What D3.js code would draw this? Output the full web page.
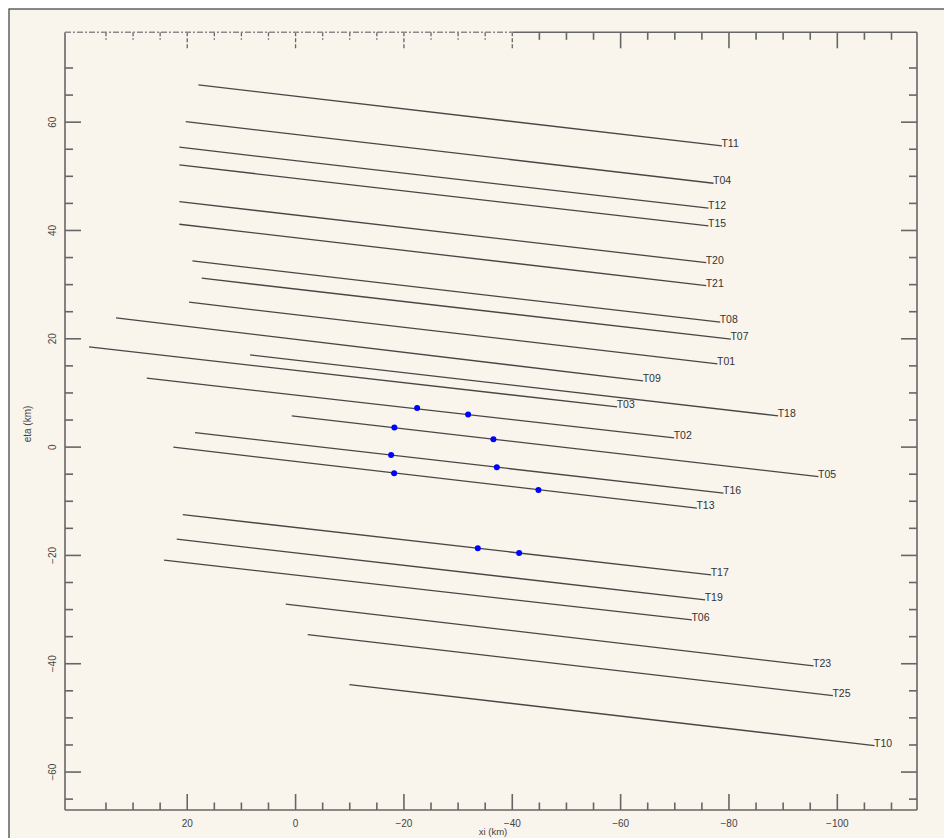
<!DOCTYPE html>
<html>
<head>
<meta charset="utf-8">
<script src="https://cdn.jsdelivr.net/npm/d3@7"></script>
<style>
  html, body { margin: 0; padding: 0; background: #ffffff; }
  svg { display: block; }
  text { font-family: "Liberation Sans", Arial, sans-serif; }
</style>
</head>
<body>
<svg id="chart" width="944" height="838"></svg>
<script>
// ---- data (km) ----
const tracks   = ["T11","T04","T12","T15","T20","T21","T08","T07","T01","T09","T18","T03","T02","T05","T16","T13","T17","T19","T06","T23","T25","T10"];
const xiStart  = [17.85, 20.18, 21.36, 21.36, 21.36, 21.36, 18.96, 17.23, 19.57, 33.05,  8.31, 38.04, 27.38,  0.61, 18.46, 22.47, 20.73, 21.84, 24.19,  1.72,  -2.34, -10.03];
const etaStart = [66.78, 60.01, 55.28, 52.01, 45.24, 41.06, 34.29, 31.09, 26.66, 23.76, 16.93, 18.41, 12.63,  5.67,  2.58, -0.11,-12.56,-17.10,-20.98,-29.10, -34.71, -43.94];
const xiEnd    = [-78.79,-77.24,-76.31,-76.31,-75.89,-75.89,-78.47,-80.45,-77.97,-64.25,-89.18,-59.45,-69.98,-96.62,-79.08,-74.17,-76.81,-75.70,-73.25,-95.70, -99.28,-106.96];
const etaEnd   = [55.52, 48.63, 44.02, 40.75, 33.97, 29.73, 22.97, 19.83, 15.27, 12.13,  5.67,  7.33,  1.61, -5.54, -8.60,-11.37,-23.69,-28.31,-32.00,-40.49, -45.98, -55.21];

const dotXi  = [-22.53,-31.94,-18.33,-36.61,-17.73,-37.24,-18.28,-44.92,-33.73,-41.36];
const dotEta = [  7.15,  5.91,  3.51,  1.37, -1.53, -3.80, -4.91, -7.99,-18.76,-19.63];

const xMajorTicks = [20, 0, -20, -40, -60, -80, -100];
const xMinorTicks = [35, 30, 25, 15, 10, 5, -5, -10, -15, -25, -30, -35, -45, -50, -55, -65, -70, -75, -85, -90, -95, -105, -110];
const yMajorTicks = [60, 40, 20, 0, -20, -40, -60];
const yMinorTicks = [70, 65, 55, 50, 45, 35, 30, 25, 15, 10, 5, -5, -10, -15, -25, -30, -35, -45, -50, -55, -65];
const xTitle = "xi (km)";
const yTitle = "eta (km)";

// ---- layout ----
const L = 65, R = 917, T = 32.3, B = 810;
const svg = d3.select("#chart");

// outer frame (left/top visible)
svg.append("rect").attr("x", 9).attr("y", 9).attr("width", 960).attr("height", 860)
  .attr("fill", "#f9f5ec").attr("stroke", "#3a3a3a").attr("stroke-width", 1.2);

const x = d3.scaleLinear().domain([42.47, -114.8]).range([L, R]);
const y = d3.scaleLinear().domain([76.5, -67.1]).range([T, B]);

const axisColor = "#666666";
const fmt = d3.format("d");

function styleAxis(g) {
  g.select(".domain").remove();
  g.selectAll(".tick line").attr("stroke", axisColor).attr("stroke-width", 1.6);
  g.selectAll(".tick text").attr("fill", "#444").attr("font-size", 10);
}

// bottom axis
svg.append("g").attr("transform", `translate(0,${B})`)
  .call(d3.axisBottom(x).tickValues(xMinorTicks).tickSize(-7.5).tickFormat(""))
  .call(styleAxis);
svg.append("g").attr("transform", `translate(0,${B})`)
  .call(d3.axisBottom(x).tickValues(xMajorTicks).tickSize(-16).tickPadding(10).tickFormat(fmt))
  .call(styleAxis);

// top axis
const topMinor = svg.append("g").attr("transform", `translate(0,${T})`)
  .call(d3.axisTop(x).tickValues(xMinorTicks).tickSize(-7.5).tickFormat(""))
  .call(styleAxis);
const topMajor = svg.append("g").attr("transform", `translate(0,${T})`)
  .call(d3.axisTop(x).tickValues(xMajorTicks).tickSize(-16).tickFormat(""))
  .call(styleAxis);
// dashed-looking part of top axis (left portion)
const dashEnd = x(-40) + 1;
[topMinor, topMajor].forEach(g => {
  g.selectAll(".tick").filter(d => x(d) <= dashEnd)
    .select("line").attr("stroke-dasharray", "4,2").attr("stroke-width", 1.3);
});

// left axis
svg.append("g").attr("transform", `translate(${L},0)`)
  .call(d3.axisLeft(y).tickValues(yMinorTicks).tickSize(-8).tickFormat(""))
  .call(styleAxis);
const leftMajor = svg.append("g").attr("transform", `translate(${L},0)`)
  .call(d3.axisLeft(y).tickValues(yMajorTicks).tickSize(-16).tickFormat(""))
  .call(styleAxis);
leftMajor.selectAll(".tick").append("text")
  .attr("transform", "translate(-9,0) rotate(-90)")
  .attr("text-anchor", "middle")
  .attr("dy", "0")
  .attr("fill", "#444").attr("font-size", 10)
  .text(d => fmt(d));

// right axis
svg.append("g").attr("transform", `translate(${R},0)`)
  .call(d3.axisRight(y).tickValues(yMinorTicks).tickSize(-8).tickFormat(""))
  .call(styleAxis);
svg.append("g").attr("transform", `translate(${R},0)`)
  .call(d3.axisRight(y).tickValues(yMajorTicks).tickSize(-16).tickFormat(""))
  .call(styleAxis);

// frame lines
svg.append("line").attr("x1", L).attr("x2", L).attr("y1", T).attr("y2", B)
  .attr("stroke", axisColor).attr("stroke-width", 1.6);
svg.append("line").attr("x1", R).attr("x2", R).attr("y1", T).attr("y2", B)
  .attr("stroke", axisColor).attr("stroke-width", 1.6);
svg.append("line").attr("x1", L).attr("x2", R).attr("y1", B).attr("y2", B)
  .attr("stroke", axisColor).attr("stroke-width", 1.6);
svg.append("line").attr("x1", dashEnd).attr("x2", R).attr("y1", T).attr("y2", T)
  .attr("stroke", axisColor).attr("stroke-width", 1.6);
svg.append("line").attr("x1", L).attr("x2", dashEnd).attr("y1", T).attr("y2", T)
  .attr("stroke", "#8a8a8a").attr("stroke-width", 1.4).attr("stroke-dasharray", "6,2,2,2");

// axis titles
svg.append("text").attr("x", 493).attr("y", 835).attr("text-anchor", "middle")
  .attr("fill", "#444").attr("font-size", 9.5).text(xTitle);
svg.append("text").attr("transform", "translate(31,424) rotate(-90)")
  .attr("text-anchor", "middle").attr("fill", "#444").attr("font-size", 10).text(yTitle);

// tracks
const idx = d3.range(tracks.length);
svg.append("g").selectAll("line").data(idx).join("line")
  .attr("x1", i => x(xiStart[i])).attr("y1", i => y(etaStart[i]))
  .attr("x2", i => x(xiEnd[i])).attr("y2", i => y(etaEnd[i]))
  .attr("stroke", "#474747").attr("stroke-width", 1.3);

svg.append("g").selectAll("text").data(idx).join("text")
  .attr("x", i => x(xiEnd[i]) - 0.5).attr("y", i => y(etaEnd[i]) + 1)
  .attr("fill", "#333").attr("font-size", 10.5)
  .text(i => tracks[i]);

// blue points
svg.append("g").selectAll("circle").data(d3.range(dotXi.length)).join("circle")
  .attr("cx", i => x(dotXi[i])).attr("cy", i => y(dotEta[i]))
  .attr("r", 3).attr("fill", "#0000ff");
</script>
</body>
</html>
